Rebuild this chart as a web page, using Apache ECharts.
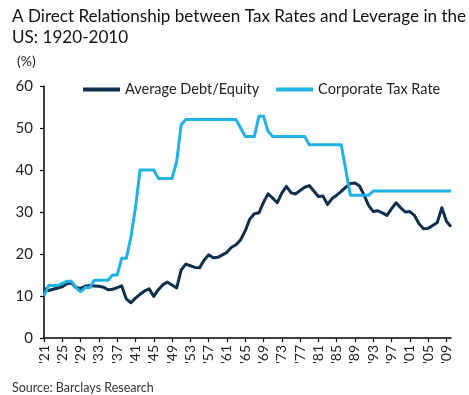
<!DOCTYPE html>
<html><head><meta charset="utf-8">
<script src="https://cdn.jsdelivr.net/npm/echarts@6/dist/echarts.min.js"></script>
<style>html,body{margin:0;padding:0;background:#fff}#c{width:469px;height:395px}</style>
</head><body><div id="c"></div>
<script>
const years = [];
for (let y = 1921; y <= 2010; y++) years.push(y);

const debtEquity = [
 11.8, 11.3, 11.6, 11.9, 12.2, 12.9, 13.1, 12.0, 11.8, 12.3,
 12.5, 12.4, 12.3, 12.1, 11.5, 11.6, 12.0, 12.4, 9.3, 8.4,
 9.5, 10.4, 11.2, 11.7, 9.9, 11.5, 12.7, 13.3, 12.6, 11.9,
 16.2, 17.6, 17.2, 16.8, 16.7, 18.5, 19.8, 19.1, 19.2, 19.8,
 20.4, 21.6, 22.2, 23.4, 25.5, 28.3, 29.6, 29.8, 32.3, 34.3,
 33.3, 32.2, 34.5, 36.1, 34.6, 34.3, 35.1, 35.9, 36.3, 35.0,
 33.7, 33.8, 31.8, 33.2, 34.0, 34.9, 35.9, 36.8, 36.9, 36.2,
 34.0, 31.5, 30.1, 30.3, 29.8, 29.2, 30.8, 32.2, 31.0, 30.0,
 30.1, 29.2, 27.2, 26.0, 26.1, 26.8, 27.5, 31.0, 27.8, 26.5
];

const taxRate = [
 10, 12.5, 12.5, 12.5, 13, 13.5, 13.5, 12, 11, 12,
 12, 13.75, 13.75, 13.75, 13.75, 15, 15, 19, 19, 24,
 31, 40, 40, 40, 40, 38, 38, 38, 38, 42,
 50.75, 52, 52, 52, 52, 52, 52, 52, 52, 52,
 52, 52, 52, 50, 48, 48, 48, 52.8, 52.8, 49.2,
 48, 48, 48, 48, 48, 48, 48, 48, 46, 46,
 46, 46, 46, 46, 46, 46, 40, 34, 34, 34,
 34, 34, 35, 35, 35, 35, 35, 35, 35, 35,
 35, 35, 35, 35, 35, 35, 35, 35, 35, 35
];

const seriesNames = ['Average Debt/Equity', 'Corporate Tax Rate'];
const yTicks = [0, 10, 20, 30, 40, 50, 60];

const FONT = 'Lato';
const chart = echarts.init(document.getElementById('c'), null, {renderer: 'canvas'});
chart.setOption({
  animation: false,
  textStyle: {fontFamily: FONT},
  title: [{
    text: 'A Direct Relationship between Tax Rates and Leverage in the\nUS: 1920-2010',
    left: 7, top: 1,
    textStyle: {fontFamily: FONT, fontSize: 17.1, fontWeight: 'normal', color: '#111', lineHeight: 21}
  }, {
    text: 'Source: Barclays Research',
    left: 7, top: 376,
    textStyle: {fontFamily: FONT, fontSize: 12.5, fontWeight: 'normal', color: '#333'}
  }],
  graphic: [{
    type: 'text', left: 17, top: 54,
    style: {text: '(%)', font: '14px ' + FONT, fill: '#222'}
  }],
  legend: {
    left: 78, top: 77,
    itemWidth: 37, itemHeight: 4, itemGap: 17,
    icon: 'rect',
    textStyle: {fontFamily: FONT, fontSize: 14.5, color: '#222'},
    data: seriesNames
  },
  grid: {left: 44, right: 18, top: 86, bottom: 57, containLabel: false},
  xAxis: {
    type: 'category',
    data: years,
    boundaryGap: false,
    axisLine: {lineStyle: {color: '#000', width: 1.5}},
    axisTick: {interval: 3, length: 4, lineStyle: {color: '#000', width: 1.2}},
    axisLabel: {
      interval: 3, rotate: 90, fontSize: 14, color: '#222', margin: 7,
      formatter: v => "'" + String(v).slice(2)
    },
    splitLine: {show: false}
  },
  yAxis: {
    type: 'value',
    min: yTicks[0], max: yTicks[yTicks.length - 1], interval: 10,
    axisLine: {show: true, lineStyle: {color: '#000', width: 1.5}},
    axisTick: {show: true, length: 4, lineStyle: {color: '#000', width: 1.2}},
    axisLabel: {fontSize: 15, color: '#222', margin: 11},
    splitLine: {show: false}
  },
  series: [{
    name: seriesNames[0], type: 'line', data: debtEquity,
    showSymbol: false, symbol: 'none',
    lineStyle: {color: '#0f2f4d', width: 3, join: 'round'},
    itemStyle: {color: '#0f2f4d'}
  }, {
    name: seriesNames[1], type: 'line', data: taxRate,
    showSymbol: false, symbol: 'none',
    lineStyle: {color: '#1fb3e3', width: 3, join: 'round'},
    itemStyle: {color: '#1fb3e3'}
  }]
});
</script>
</body></html>
